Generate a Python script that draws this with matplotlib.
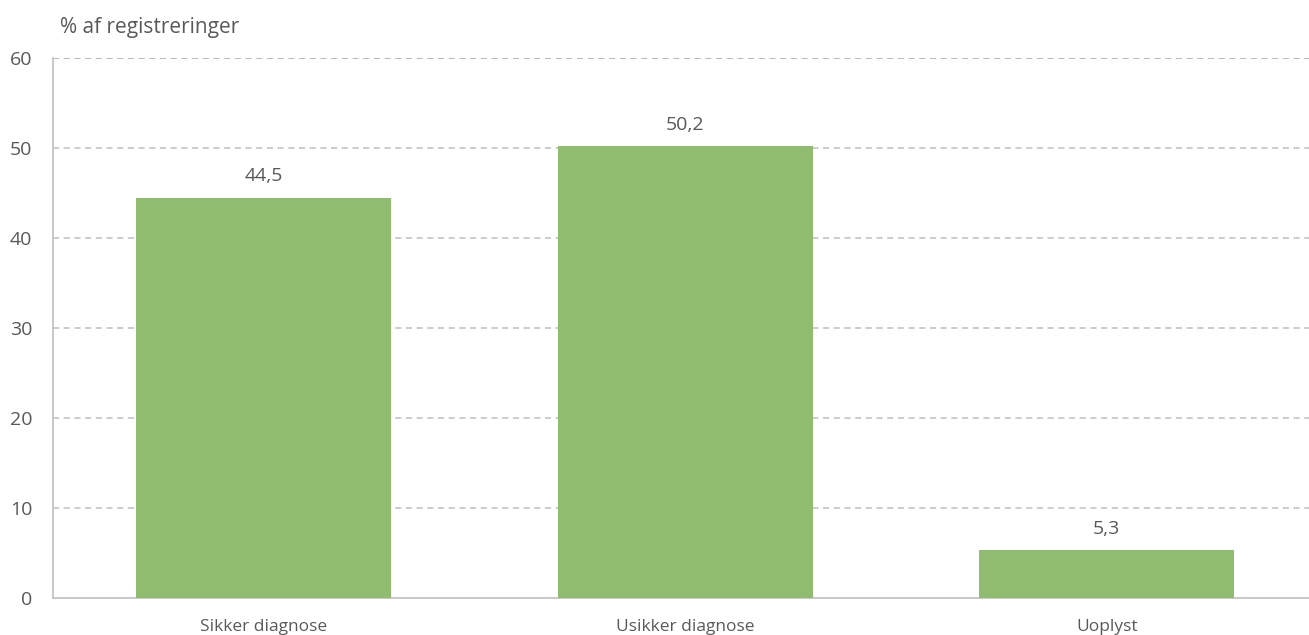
import matplotlib.pyplot as plt
import numpy as np

categories = ['Sikker diagnose', 'Usikker diagnose', 'Uoplyst']
values = [44.5, 50.2, 5.3]
yticks = [0, 10, 20, 30, 40, 50, 60]

BAR_COLOR = '#8fbc6e'
TEXT_COLOR = '#595959'
GRID_COLOR = '#bfbfbf'

plt.rcParams['font.family'] = ['Open Sans', 'DejaVu Sans']

fig = plt.figure(figsize=(13.09, 6.35), dpi=100)
ax = fig.add_axes([53 / 1309, 37 / 635, 1256 / 1309, 540 / 635])

x = np.arange(len(categories))
ax.bar(x, values, width=0.605, color=BAR_COLOR, zorder=3)
for xi, v in zip(x, values):
    ax.text(xi, v + 2.4, f'{v:.1f}'.replace('.', ','), ha='center', va='center',
            fontsize=14, color=TEXT_COLOR)

ax.set_xlim(-0.5, 2.48)
ax.set_ylim(0, 60)
ax.set_yticks(yticks)
ax.set_xticks(x)
ax.set_xticklabels(categories, fontsize=12.5, color=TEXT_COLOR)
ax.tick_params(axis='y', labelsize=14, labelcolor=TEXT_COLOR, length=0, pad=15)
ax.tick_params(axis='x', length=0, pad=15)

for t in yticks[1:]:
    ax.axhline(t, color='#a6a6a6' if t == 60 else GRID_COLOR, lw=1.1,
               ls=(0, (4, 3)), zorder=1)

for side in ['top', 'right']:
    ax.spines[side].set_visible(False)
ax.spines['left'].set_color(GRID_COLOR)
ax.spines['bottom'].set_color(GRID_COLOR)
ax.spines['left'].set_linewidth(1.2)
ax.spines['bottom'].set_linewidth(1.2)

fig.text(60 / 1309, 1 - 27 / 635, '% af registreringer', fontsize=15,
         color=TEXT_COLOR, ha='left', va='center')

fig.savefig('out.png', dpi=100)
